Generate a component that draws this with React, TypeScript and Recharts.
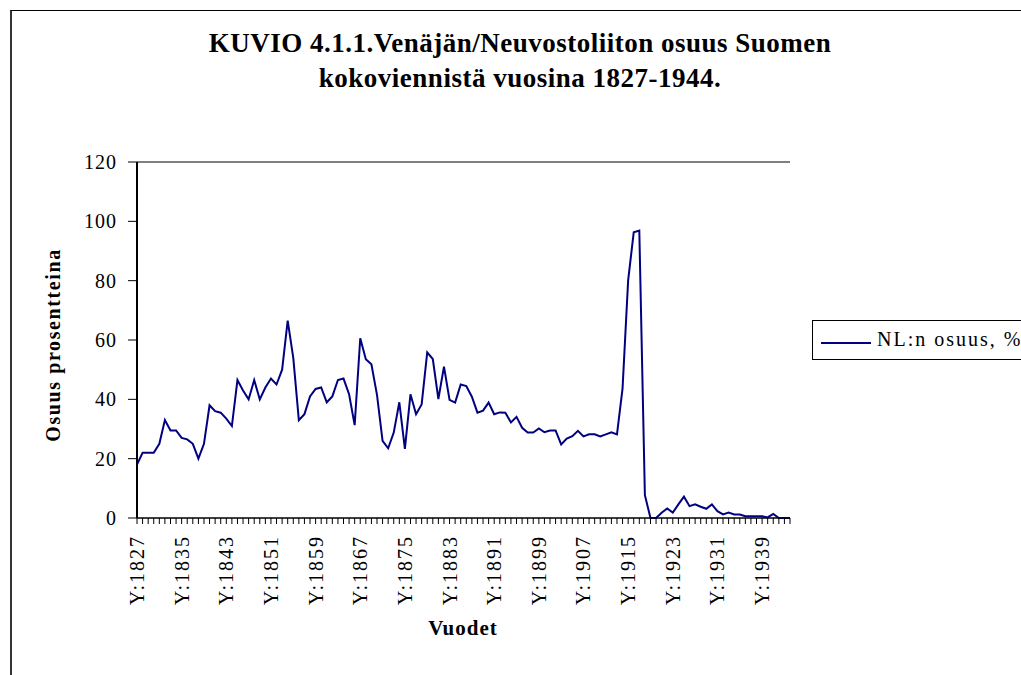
import { LineChart, Line, XAxis, YAxis, CartesianGrid } from "recharts";

const years = [
  1827, 1828, 1829, 1830, 1831, 1832, 1833, 1834, 1835, 1836, 1837, 1838, 1839, 1840, 1841, 1842,
  1843, 1844, 1845, 1846, 1847, 1848, 1849, 1850, 1851, 1852, 1853, 1854, 1855, 1856, 1857, 1858,
  1859, 1860, 1861, 1862, 1863, 1864, 1865, 1866, 1867, 1868, 1869, 1870, 1871, 1872, 1873, 1874,
  1875, 1876, 1877, 1878, 1879, 1880, 1881, 1882, 1883, 1884, 1885, 1886, 1887, 1888, 1889, 1890,
  1891, 1892, 1893, 1894, 1895, 1896, 1897, 1898, 1899, 1900, 1901, 1902, 1903, 1904, 1905, 1906,
  1907, 1908, 1909, 1910, 1911, 1912, 1913, 1914, 1915, 1916, 1917, 1918, 1919, 1920, 1921, 1922,
  1923, 1924, 1925, 1926, 1927, 1928, 1929, 1930, 1931, 1932, 1933, 1934, 1935, 1936, 1937, 1938,
  1939, 1940, 1941, 1942, 1943, 1944,
];

// NL:n osuus, % (1827-1944)
const shares = [
  18, 22, 22, 22, 25, 33, 29.5, 29.5, 27, 26.5, 25, 20, 25, 38, 36, 35.5,
  33.5, 31, 46.5, 43, 40, 46.5, 40, 44, 47, 45, 50, 66.5, 54, 33, 35, 41,
  43.5, 44, 39, 41, 46.5, 47, 41.7, 31.3, 60.6, 53.5, 51.8, 41.5, 26, 23.5, 28.8, 39,
  23.3, 41.7, 35, 38.3, 55.8, 53.6, 40.1, 51, 39.8, 38.9, 45, 44.5, 40.9, 35.5, 36.2, 38.9,
  35, 35.6, 35.5, 32.2, 34.1, 30.4, 28.8, 28.8, 30.2, 28.9, 29.5, 29.5, 24.8, 26.8, 27.6, 29.4,
  27.5, 28.2, 28.2, 27.5, 28.2, 28.9, 28.2, 43.7, 80.1, 96.3, 96.9, 7.7, 0, 0, 1.8, 3.2,
  1.8, 4.6, 7.2, 4, 4.6, 3.8, 3.1, 4.6, 2.3, 1.2, 1.8, 1.2, 1.2, 0.6, 0.6, 0.6,
  0.6, 0.2, 1.4, 0, 0, 0,
];

const tickLabels = [
  "Y:1827", "Y:1835", "Y:1843", "Y:1851", "Y:1859", "Y:1867", "Y:1875", "Y:1883",
  "Y:1891", "Y:1899", "Y:1907", "Y:1915", "Y:1923", "Y:1931", "Y:1939",
];

const yTicks = [0, 20, 40, 60, 80, 100, 120];

const data = years.map((y, i) => ({ year: "Y:" + y, share: shares[i] }));

const serif = '"Liberation Serif", "Times New Roman", serif';

function YearTick(props: any) {
  const { x, y, payload } = props;
  if (!tickLabels.includes(payload.value)) return null;
  return (
    <text
      x={x}
      y={y}
      transform={`rotate(-90 ${x} ${y})`}
      textAnchor="end"
      dominantBaseline="central"
      fontFamily={serif}
      fontSize={20}
      letterSpacing={2}
      fill="#000"
    >
      {payload.value}
    </text>
  );
}

export default function App() {
  return (
    <div style={{ position: "absolute", left: 0, top: 0, width: 1021, height: 675, overflow: "hidden", background: "#fff", fontFamily: serif }}>
      {/* outer frame */}
      <div style={{ position: "absolute", left: 10, top: 10, width: 1100, height: 800, borderLeft: "2px solid #333", borderTop: "1px solid #000" }} />

      <div style={{ position: "absolute", left: 0, top: 0, width: 1021, height: 675 }}>
        <LineChart width={1021} height={675} data={data} margin={{ top: 162, right: 231, bottom: 57, left: 57 }}>
          <CartesianGrid vertical={false} stroke="#000" strokeWidth={1} />
          <XAxis
            dataKey="year"
            interval={0}
            height={100}
            tickSize={6}
            tickMargin={11}
            tick={<YearTick />}
            axisLine={{ stroke: "#000", strokeWidth: 1 }}
            tickLine={{ stroke: "#000" }}
          />
          <YAxis
            yAxisId="left"
            domain={[0, 120]}
            ticks={yTicks}
            width={80}
            tickSize={9}
            tickMargin={11}
            tick={{ fill: "#000", fontSize: 20, fontFamily: serif, letterSpacing: 1 }}
            axisLine={{ stroke: "#000", strokeWidth: 2 }}
            tickLine={{ stroke: "#000" }}
          />
          <YAxis yAxisId="right" orientation="right" width={0} tick={false} tickLine={false} axisLine={{ stroke: "#000" }} domain={[0, 120]} />
          <Line
            yAxisId="left"
            type="linear"
            dataKey="share"
            stroke="#000080"
            strokeWidth={2}
            dot={false}
            isAnimationActive={false}
          />
        </LineChart>
      </div>

      {/* title */}
      <div style={{ position: "absolute", left: 120, width: 800, top: 26, textAlign: "center", fontWeight: "bold", fontSize: 27, letterSpacing: 0.5, lineHeight: "35px", color: "#000" }}>
        KUVIO 4.1.1.Venäjän/Neuvostoliiton osuus Suomen
        <br />
        kokoviennistä vuosina 1827-1944.
      </div>

      {/* axis titles */}
      <div style={{ position: "absolute", left: 363, width: 200, top: 616, textAlign: "center", fontWeight: "bold", fontSize: 21, letterSpacing: 1, color: "#000" }}>
        Vuodet
      </div>
      <div
        style={{
          position: "absolute",
          left: 53,
          top: 345,
          transform: "translate(-50%, -50%) rotate(-90deg)",
          whiteSpace: "nowrap",
          fontWeight: "bold",
          fontSize: 20,
          letterSpacing: 1.6,
          color: "#000",
        }}
      >
        Osuus prosentteina
      </div>

      {/* legend */}
      <div style={{ position: "absolute", left: 812, top: 320, width: 260, height: 40, border: "1px solid #000", boxSizing: "border-box" }}>
        <div style={{ position: "absolute", left: 8, top: 21, width: 50, height: 2, background: "#000080" }} />
        <div style={{ position: "absolute", left: 64, top: 6, fontSize: 20, letterSpacing: 2, whiteSpace: "nowrap", color: "#000", lineHeight: "24px" }}>
          NL:n osuus, %
        </div>
      </div>
    </div>
  );
}
